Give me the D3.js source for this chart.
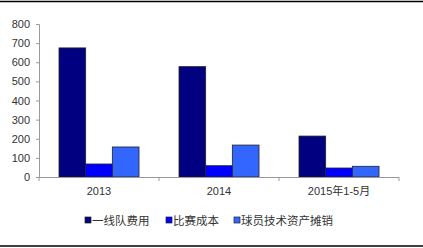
<!DOCTYPE html>
<html><head><meta charset="utf-8">
<script src="https://cdn.jsdelivr.net/npm/d3@7"></script>
<style>body{margin:0;background:#fff}svg{display:block}</style>
</head><body>
<script>
const categories = ["2013", "2014", "2015年1-5月"];
const seriesNames = ["一线队费用", "比赛成本", "球员技术资产摊销"];
const firstTeam = [675, 577, 214];
const matchCost = [68, 59, 47];
const playerAmort = [157, 167, 56];
const yTicks = [0, 100, 200, 300, 400, 500, 600, 700, 800];
const colors = ["#000080", "#0000FF", "#3366FF"];

const series = [firstTeam, matchCost, playerAmort];
const W = 423, H = 248;
const svg = d3.select("body").append("svg").attr("width", W).attr("height", H);

// frame lines
svg.append("line").attr("x1",0).attr("x2",W).attr("y1",1.5).attr("y2",1.5).attr("stroke","#000").attr("stroke-width",1.5);
svg.append("line").attr("x1",0).attr("x2",W).attr("y1",246).attr("y2",246).attr("stroke","#000").attr("stroke-width",1.5);

const x0 = d3.scaleBand().domain(categories).range([39, 399]).paddingInner(0).paddingOuter(0);
const x1 = d3.scaleBand().domain(d3.range(3)).range([0, x0.bandwidth()]).paddingOuter(0.75).paddingInner(0);
const y = d3.scaleLinear().domain([0, 800]).range([177, 24]);

// bars
categories.forEach((c, ci) => {
  series.forEach((s, si) => {
    svg.append("rect")
      .attr("x", x0(c) + x1(si))
      .attr("y", y(s[ci]))
      .attr("width", x1.bandwidth())
      .attr("height", y(0) - y(s[ci]))
      .attr("fill", colors[si])
      .attr("stroke", "#222")
      .attr("stroke-width", 0.8);
  });
});

// y axis
const yAxis = svg.append("g").attr("transform", "translate(39,0)")
  .call(d3.axisLeft(y).tickValues(yTicks).tickSize(3).tickPadding(6));
yAxis.select(".domain").attr("stroke", "#999");
yAxis.selectAll(".tick line").attr("stroke", "#999");
yAxis.selectAll("text").attr("font-family", "Arial, 'Liberation Sans', sans-serif").attr("font-size", 11).attr("fill", "#333");

// x axis
const xAxis = svg.append("g").attr("transform", "translate(0,177)");
xAxis.append("line").attr("x1", 39).attr("x2", 399).attr("y1", 0.5).attr("y2", 0.5).attr("stroke", "#999");
const bounds = categories.map(c => x0(c)).concat([x0(categories[categories.length-1]) + x0.bandwidth()]);
xAxis.selectAll(".tk").data(bounds).enter().append("line")
  .attr("x1", d => d).attr("x2", d => d).attr("y1", 0).attr("y2", 4).attr("stroke", "#999");
xAxis.selectAll(".lbl").data(categories).enter().append("text")
  .attr("x", d => x0(d) + x0.bandwidth()/2).attr("y", 18)
  .attr("text-anchor", "middle")
  .attr("font-family", "Arial, 'Liberation Sans', 'Noto Sans CJK SC', sans-serif")
  .attr("font-size", 11).attr("fill", "#333").text(d => d);

// legend
const legendX = [85, 166, 234];
const lg = svg.append("g");
seriesNames.forEach((n, i) => {
  lg.append("rect").attr("x", legendX[i]).attr("y", 217).attr("width", 6).attr("height", 6)
    .attr("fill", colors[i]).attr("stroke", "#222").attr("stroke-width", 0.7);
  lg.append("text").attr("x", legendX[i] + 7).attr("y", 224.5)
    .attr("font-family", "'Noto Sans CJK SC', sans-serif").attr("font-size", 11.5).attr("fill", "#333")
    .text(n);
});
</script>
</body></html>
